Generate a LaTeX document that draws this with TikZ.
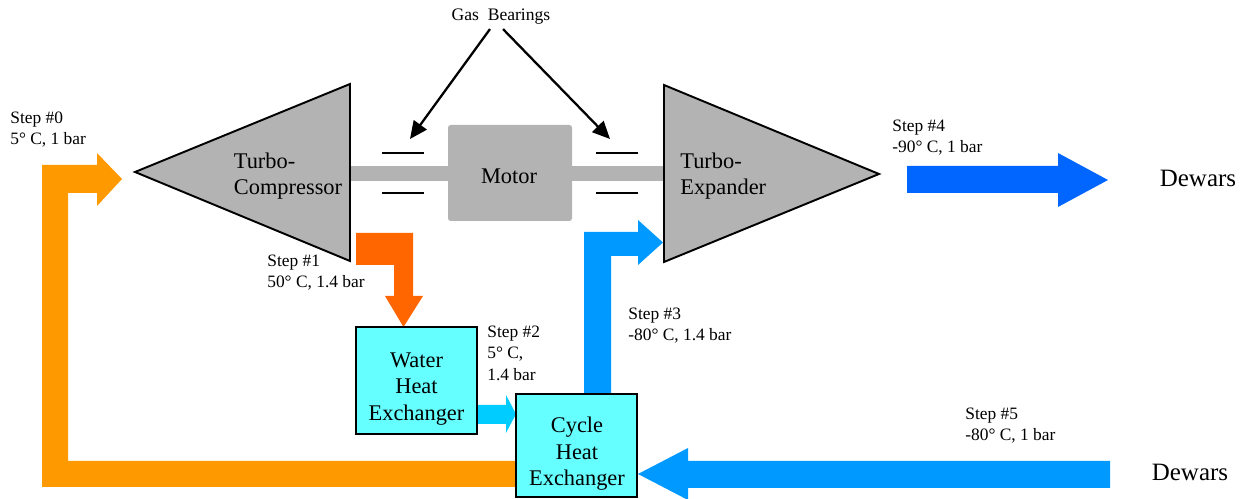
\documentclass[tikz,border=0pt]{standalone}
\usepackage{fontspec}
\setmainfont{Liberation Serif}
\usetikzlibrary{arrows.meta}
\definecolor{machgray}{HTML}{B3B3B3}
\definecolor{hxcyan}{HTML}{66FFFF}
\definecolor{flowA}{HTML}{FF9900}
\definecolor{flowB}{HTML}{FF6600}
\definecolor{flowC}{HTML}{00CCFF}
\definecolor{flowD}{HTML}{0099FF}
\definecolor{flowE}{HTML}{0066FF}
\begin{document}
\begin{tikzpicture}[x=0.02cm,y=-0.02cm,
  machine/.style={fill=machgray,draw=black,line width=1.1pt,line join=miter},
  hxbox/.style={fill=hxcyan,draw=black,line width=1.3pt},
  bigtext/.style={font=\fontsize{12.75}{15}\selectfont,align=center,inner sep=0pt},
  lefttext/.style={font=\fontsize{12.75}{15}\selectfont,align=left,inner sep=0pt},
  steptext/.style={font=\fontsize{9.9}{12}\selectfont,align=left,anchor=north west,inner sep=0pt},
  dewartext/.style={font=\fontsize{14.2}{17}\selectfont,inner sep=0pt},
  bearing/.style={line width=1.7pt},
  pointer/.style={line width=1.3pt,-{Triangle[length=10pt,width=9pt]}}]
\useasboundingbox (0,0) rectangle (1249,499);

% shaft and motor
\fill[machgray] (350,166) rectangle (664,181);
\fill[machgray,rounded corners=1.5pt] (448,125) rectangle (572,221);
\node[bigtext] (motor) at (509,176) {Motor};

% turbo-compressor and turbo-expander
\draw[machine] (135,172) -- (350,84) -- (350,261) -- cycle;
\node[lefttext] (comp) at (288,176) {Turbo-\\Compressor};
\draw[machine] (664,85) -- (879,174) -- (664,262) -- cycle;
\node[lefttext,anchor=west] (expd) at (680,176) {Turbo-\\Expander};

% gas bearings
\draw[bearing] (382,153) -- (424,153);
\draw[bearing] (382,193) -- (424,193);
\draw[bearing] (596,153) -- (638,153);
\draw[bearing] (596,193) -- (638,193);
\coordinate (brgL) at (410,139);
\coordinate (brgR) at (610,139);
\node[font=\fontsize{10}{12}\selectfont,inner sep=0pt] (gb) at (501,17) {Gas\ \ Bearings};
\draw[pointer] ([xshift=-0.22cm,yshift=-0.08cm]gb.south) -- (brgL);
\draw[pointer] ([xshift=0.04cm,yshift=-0.08cm]gb.south) -- (brgR);

% flow arrows
\fill[flowA] (42,487) -- (42,165) -- (97,165) -- (97,153) -- (122,179) -- (97,206)
  -- (97,193) -- (68,193) -- (68,461) -- (518,461) -- (518,487) -- cycle;
\fill[flowB] (356,233) -- (413,233) -- (413,296) -- (423,296) -- (403.5,327)
  -- (385,296) -- (394,296) -- (394,265) -- (356,265) -- cycle;
\fill[flowC] (477,405) -- (506,405) -- (506,395) -- (516,414) -- (506,433)
  -- (506,424) -- (477,424) -- cycle;
\fill[flowD] (584,396) -- (584,232) -- (638,232) -- (638,220) -- (663,242.5)
  -- (638,265) -- (638,256) -- (611,256) -- (611,396) -- cycle;
\fill[flowE] (907,166) -- (1058,166) -- (1058,153) -- (1108,180) -- (1058,207)
  -- (1058,193) -- (907,193) -- cycle;
\fill[flowD] (1110,461) -- (688,461) -- (688,448) -- (638,474) -- (688,500)
  -- (688,488) -- (1110,488) -- cycle;

% heat exchangers
\node[hxbox,minimum width=2.42cm,minimum height=2.14cm,inner sep=0pt] (whx) at (416.5,380.5) {};
\node[bigtext] (whxt) at (416.5,389) {Water\\Heat\\Exchanger};
\node[hxbox,minimum width=2.42cm,minimum height=2.06cm,inner sep=0pt] (chx) at (576.5,445.5) {};
\node[bigtext] (chxt) at (577,454) {Cycle\\Heat\\Exchanger};

% step labels
\node[steptext] (s0) at (10,112) {Step \#0\\5° C, 1 bar};
\node[steptext] (s1) at (267,255) {Step \#1\\50° C, 1.4 bar};
\node[steptext] (s2) at (487,326) {Step \#2\\5° C,\\1.4 bar};
\node[steptext] (s3) at (628,308) {Step \#3\\-80° C, 1.4 bar};
\node[steptext] (s4) at (892,120) {Step \#4\\-90° C, 1 bar};
\node[steptext] (s5) at (965,408) {Step \#5\\-80° C, 1 bar};

% dewars
\node[dewartext] (dw1) at (1198,178) {Dewars};
\node[dewartext] (dw2) at (1190,472) {Dewars};
\end{tikzpicture}
\end{document}
